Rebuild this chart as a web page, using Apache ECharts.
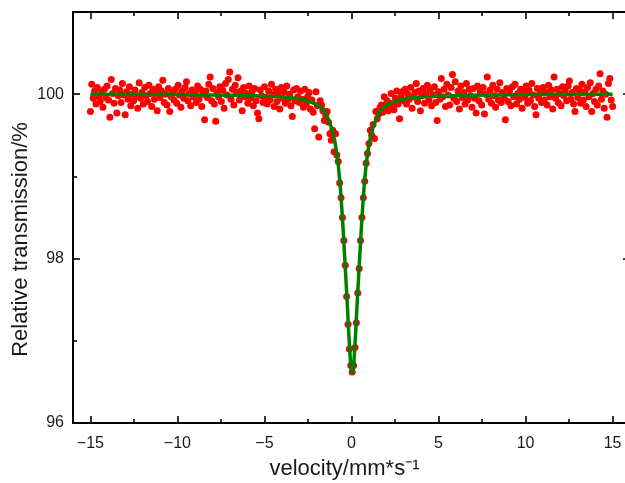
<!DOCTYPE html>
<html>
<head>
<meta charset="utf-8">
<script src="https://cdn.jsdelivr.net/npm/echarts@6/dist/echarts.min.js"></script>
<style>
  html, body { margin: 0; padding: 0; background: #fff; }
  #chart { width: 625px; height: 483px; }
</style>
</head>
<body>
<div id="chart"></div>
<script>
// measured spectrum: velocity (mm/s) and relative transmission (%)
var velocity = [
  -15.00,-14.92,-14.84,-14.76,-14.68,-14.60,-14.52,-14.44,-14.36,-14.28,-14.20,-14.12,-14.04,-13.96,-13.88,-13.80,-13.72,-13.64,-13.56,-13.48,-13.40,-13.32,-13.24,-13.16,-13.08,
  -13.00,-12.92,-12.84,-12.76,-12.68,-12.60,-12.52,-12.44,-12.36,-12.28,-12.20,-12.12,-12.04,-11.96,-11.88,-11.80,-11.72,-11.64,-11.56,-11.48,-11.40,-11.32,-11.24,-11.16,-11.08,
  -11.00,-10.92,-10.84,-10.76,-10.68,-10.60,-10.52,-10.44,-10.36,-10.28,-10.20,-10.12,-10.04,-9.96,-9.88,-9.80,-9.72,-9.64,-9.56,-9.48,-9.40,-9.32,-9.24,-9.16,-9.08,
  -9.00,-8.92,-8.84,-8.76,-8.68,-8.60,-8.52,-8.44,-8.36,-8.28,-8.20,-8.12,-8.04,-7.96,-7.88,-7.80,-7.72,-7.64,-7.56,-7.48,-7.40,-7.32,-7.24,-7.16,-7.08,
  -7.00,-6.92,-6.84,-6.76,-6.68,-6.60,-6.52,-6.44,-6.36,-6.28,-6.20,-6.12,-6.04,-5.96,-5.88,-5.80,-5.72,-5.64,-5.56,-5.48,-5.40,-5.32,-5.24,-5.16,-5.08,
  -5.00,-4.92,-4.84,-4.76,-4.68,-4.60,-4.52,-4.44,-4.36,-4.28,-4.20,-4.12,-4.04,-3.96,-3.88,-3.80,-3.72,-3.64,-3.56,-3.48,-3.40,-3.32,-3.24,-3.16,-3.08,
  -3.00,-2.92,-2.84,-2.76,-2.68,-2.60,-2.52,-2.44,-2.36,-2.28,-2.20,-2.12,-2.04,-1.96,-1.88,-1.80,-1.72,-1.64,-1.56,-1.48,-1.40,-1.32,-1.24,-1.16,-1.08,
  -1.00,-0.92,-0.84,-0.76,-0.68,-0.60,-0.52,-0.44,-0.36,-0.28,-0.20,-0.12,-0.04,0.04,0.12,0.20,0.28,0.36,0.44,0.52,0.60,0.68,0.76,0.84,0.92,
  1.00,1.08,1.16,1.24,1.32,1.40,1.48,1.56,1.64,1.72,1.80,1.88,1.96,2.04,2.12,2.20,2.28,2.36,2.44,2.52,2.60,2.68,2.76,2.84,2.92,
  3.00,3.08,3.16,3.24,3.32,3.40,3.48,3.56,3.64,3.72,3.80,3.88,3.96,4.04,4.12,4.20,4.28,4.36,4.44,4.52,4.60,4.68,4.76,4.84,4.92,
  5.00,5.08,5.16,5.24,5.32,5.40,5.48,5.56,5.64,5.72,5.80,5.88,5.96,6.04,6.12,6.20,6.28,6.36,6.44,6.52,6.60,6.68,6.76,6.84,6.92,
  7.00,7.08,7.16,7.24,7.32,7.40,7.48,7.56,7.64,7.72,7.80,7.88,7.96,8.04,8.12,8.20,8.28,8.36,8.44,8.52,8.60,8.68,8.76,8.84,8.92,
  9.00,9.08,9.16,9.24,9.32,9.40,9.48,9.56,9.64,9.72,9.80,9.88,9.96,10.04,10.12,10.20,10.28,10.36,10.44,10.52,10.60,10.68,10.76,10.84,10.92,
  11.00,11.08,11.16,11.24,11.32,11.40,11.48,11.56,11.64,11.72,11.80,11.88,11.96,12.04,12.12,12.20,12.28,12.36,12.44,12.52,12.60,12.68,12.76,12.84,12.92,
  13.00,13.08,13.16,13.24,13.32,13.40,13.48,13.56,13.64,13.72,13.80,13.88,13.96,14.04,14.12,14.20,14.28,14.36,14.44,14.52,14.60,14.68,14.76,14.84,14.92,
  15.00
];
var transmission = [
  99.79,100.12,99.95,100.04,99.88,100.08,99.97,99.91,100.02,99.84,100.06,99.96,100.10,99.93,99.72,100.18,100.01,99.89,100.07,99.77,99.98,100.05,99.90,100.13,99.99,
  99.75,100.03,99.94,100.09,99.86,100.00,99.92,100.05,99.97,99.83,100.14,99.95,100.02,99.88,100.08,99.98,99.91,100.11,100.01,99.85,100.06,99.94,100.03,99.80,100.09,
  99.96,100.04,100.17,99.90,100.00,99.87,100.07,99.79,99.97,100.02,99.93,100.06,99.89,100.11,99.99,99.84,100.04,99.95,100.08,100.15,99.92,100.01,99.86,100.05,99.97,
  100.03,99.90,100.10,99.94,100.06,99.85,100.00,99.69,100.04,99.96,100.12,100.21,99.92,100.07,99.88,99.67,100.02,99.97,100.09,99.91,100.05,99.83,100.13,99.99,100.18,
  100.27,99.94,100.06,99.87,100.11,100.02,100.20,99.93,100.04,99.80,100.08,99.97,100.01,99.89,100.10,99.95,100.03,99.86,100.07,99.92,99.77,99.70,100.05,99.98,99.90,
  100.09,99.96,99.88,100.04,99.93,100.12,99.99,99.85,100.06,99.91,100.02,99.82,100.08,99.95,100.03,99.89,100.10,99.94,100.00,99.86,99.73,100.05,99.92,100.07,99.97,
  99.90,100.04,99.94,99.84,100.06,99.88,99.97,100.02,99.82,99.93,99.78,99.58,100.03,99.86,99.48,99.92,99.87,99.80,99.68,99.74,99.79,99.66,99.52,99.44,99.56,
  99.30,99.52,99.26,99.18,98.92,98.74,98.50,98.22,97.92,97.54,97.20,96.90,96.70,96.62,96.70,96.92,97.22,97.58,97.88,98.22,98.50,98.74,98.94,99.16,99.28,
  99.40,99.56,99.50,99.63,99.46,99.79,99.70,99.76,99.84,99.87,99.78,99.97,99.85,99.92,99.80,99.89,100.01,99.86,99.81,99.95,100.04,99.88,99.70,99.97,100.03,
  99.92,100.06,99.88,100.00,99.94,100.08,99.83,99.97,100.02,100.13,99.91,100.04,99.80,99.98,100.07,99.89,100.01,100.11,99.93,100.05,99.86,99.99,100.09,99.90,99.68,
  100.03,99.94,100.19,99.97,100.06,99.85,100.12,99.99,99.87,100.08,100.24,99.95,100.15,99.91,100.04,99.82,100.10,99.96,100.02,99.88,100.13,99.93,100.06,99.98,99.84,
  100.07,99.95,99.77,100.10,99.92,100.03,99.87,100.08,99.76,100.00,100.21,99.94,100.05,99.89,100.11,99.98,99.84,100.06,99.93,100.14,99.90,100.02,99.96,99.69,100.07,
  99.91,100.04,99.86,100.09,99.97,100.12,99.88,100.01,99.94,100.06,99.83,100.03,99.96,100.10,99.89,100.05,99.92,100.13,99.99,99.85,99.75,100.07,99.95,100.02,99.90,
  100.08,99.93,100.03,99.87,100.11,99.97,100.05,99.82,100.21,99.95,100.06,99.90,100.01,99.86,100.09,99.98,100.04,99.92,100.10,100.16,99.94,100.02,99.88,99.79,100.07,
  99.96,100.05,99.89,100.12,99.93,100.03,99.85,100.08,99.97,100.14,99.79,100.01,99.91,100.06,99.87,100.10,100.25,99.94,100.04,99.83,100.00,99.72,100.13,100.19,99.93,
  99.85
];

// fitted curve
var fitVelocity = [-15.00,-9.96,-5.96,-3.96,-2.96,-2.46,-1.96,-1.76,-1.56,-1.36,-1.16,-0.96,-0.86,-0.76,-0.66,-0.56,-0.46,-0.36,-0.26,-0.16,-0.06,-0.01,0.04,0.09,0.14,0.24,0.34,0.44,0.54,0.64,0.74,0.84,0.94,1.04,1.24,1.44,1.64,1.84,2.04,2.54,3.04,4.04,6.04,10.04,15.00];
var fitTransmission = [100.00,99.995,99.985,99.97,99.945,99.915,99.87,99.84,99.79,99.71,99.60,99.43,99.30,99.14,98.92,98.62,98.28,97.90,97.52,97.10,96.75,96.64,96.61,96.64,96.75,97.10,97.52,97.90,98.28,98.62,98.92,99.14,99.30,99.43,99.60,99.71,99.79,99.84,99.87,99.915,99.945,99.97,99.985,99.995,100.00];

var xMajor = [-15, -10, -5, 0, 5, 10, 15];
var xMinor = [-12.5, -7.5, -2.5, 2.5, 7.5, 12.5];
var yMajor = [96, 98, 100];
var yMinor = [97, 99];

var FONT = '"Liberation Sans", Arial, sans-serif';
var minus = function (v) { return String(v).replace('-', '\u2212'); };

function frameAxis(pos, min, max, ticks, len, line, label) {
  return {
    type: 'value', position: pos, min: min, max: max,
    axisLine: { show: line, onZero: false, lineStyle: { color: '#000', width: 2 } },
    axisTick: { show: true, inside: true, length: len, customValues: ticks, lineStyle: { color: '#000', width: 1.6 } },
    axisLabel: label ? label : { show: false, customValues: ticks },
    splitLine: { show: false }
  };
}

var sx = [];
for (var i = 0; i < velocity.length; i++) sx.push([velocity[i], transmission[i]]);
var fit = [];
for (var j = 0; j < fitVelocity.length; j++) fit.push([fitVelocity[j], fitTransmission[j]]);

var xMain = frameAxis('bottom', -16, 16, xMajor, 7, true, {
  show: true, customValues: xMajor, formatter: minus, margin: 13,
  color: '#1a1a1a', fontSize: 16, fontFamily: FONT
});
xMain.name = 'velocity/mm*s\u207B\u00B9';
xMain.nameLocation = 'middle';
xMain.nameGap = 35;
xMain.nameMoveOverlap = false;
xMain.nameTextStyle = { color: '#1a1a1a', fontSize: 22, fontFamily: FONT, padding: [0, 14, 0, 0] };

var yMain = frameAxis('left', 96, 101, yMajor, 7, true, {
  show: true, customValues: yMajor, margin: 9,
  color: '#1a1a1a', fontSize: 16, fontFamily: FONT
});
yMain.name = 'Relative transmission/%';
yMain.nameLocation = 'middle';
yMain.nameGap = 41;
yMain.nameMoveOverlap = false;
yMain.nameTextStyle = { color: '#1a1a1a', fontSize: 22, fontFamily: FONT, padding: [0, 44, 0, 0] };

option = {
  backgroundColor: '#fff',
  animation: false,
  grid: { left: 73, top: 12, width: 557, height: 411, outerBoundsMode: 'none' },
  xAxis: [
    xMain,
    frameAxis('bottom', -16, 16, xMinor, 4, false),
    frameAxis('top', -16, 16, xMajor, 7, true),
    frameAxis('top', -16, 16, xMinor, 4, false)
  ],
  yAxis: [
    yMain,
    frameAxis('left', 96, 101, yMinor, 4, false),
    frameAxis('right', 96, 101, yMajor, 7, true),
    frameAxis('right', 96, 101, yMinor, 4, false)
  ],
  series: [{
    type: 'scatter',
    data: sx,
    symbol: 'circle',
    symbolSize: 7,
    itemStyle: { color: '#ff0000', opacity: 1 },
    z: 2
  }, {
    type: 'line',
    data: fit,
    showSymbol: false,
    lineStyle: { color: '#008000', width: 3.5 },
    z: 3
  }]
};

var myChart = echarts.init(document.getElementById('chart'));
myChart.setOption(option);
</script>
</body>
</html>
